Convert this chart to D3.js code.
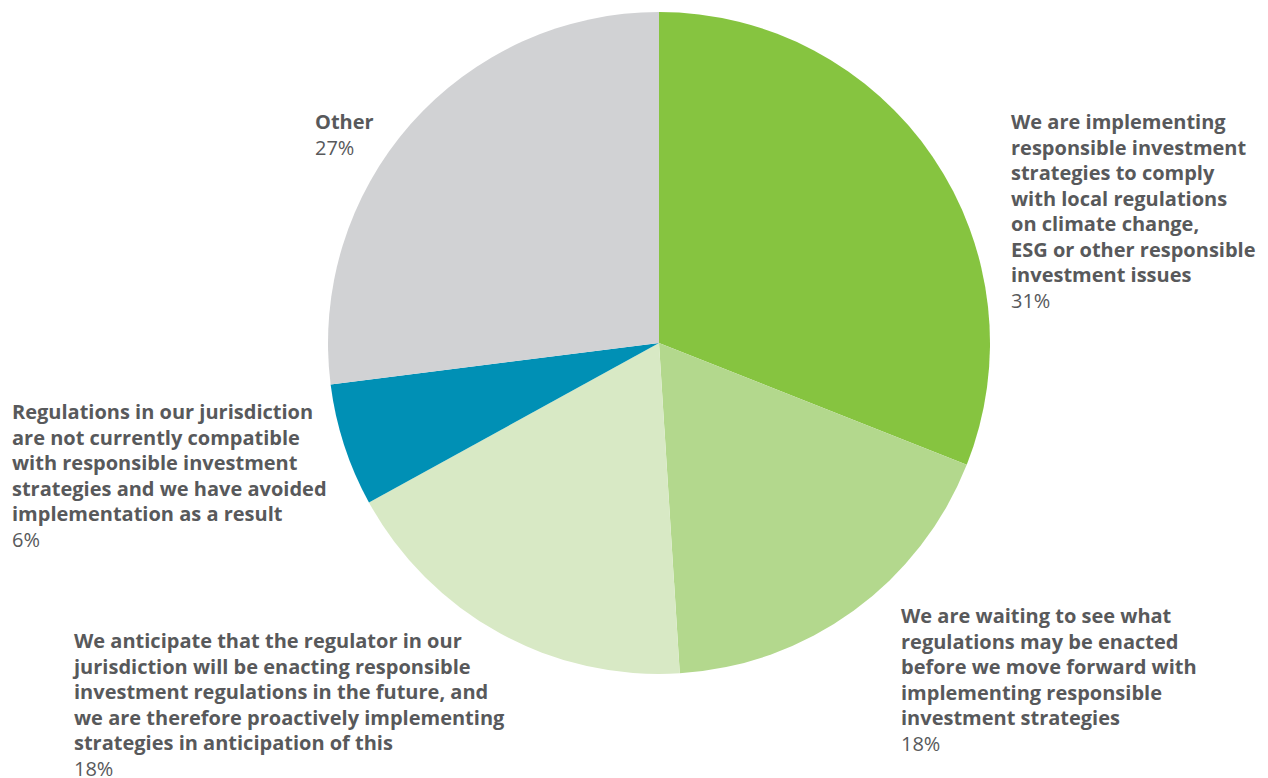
<!DOCTYPE html>
<html>
<head>
<meta charset="utf-8">
<script src="https://cdn.jsdelivr.net/npm/d3@7"></script>
<style>
  html, body { margin: 0; padding: 0; background: #fff; }
  svg text { font-family: "Open Sans", "Lato", sans-serif; fill: #58595b; }
</style>
</head>
<body>
<svg id="chart" width="1268" height="778"></svg>
<script>
// Survey responses on regulation and responsible investment (share of respondents, %)
const categories = [
  "We are implementing responsible investment strategies to comply with local regulations on climate change, ESG or other responsible investment issues",
  "We are waiting to see what regulations may be enacted before we move forward with implementing responsible investment strategies",
  "We anticipate that the regulator in our jurisdiction will be enacting responsible investment regulations in the future, and we are therefore proactively implementing strategies in anticipation of this",
  "Regulations in our jurisdiction are not currently compatible with responsible investment strategies and we have avoided implementation as a result",
  "Other"
];
const values = [31, 18, 18, 6, 27];
const percentLabels = ["31%", "18%", "18%", "6%", "27%"];
// Line breaks used for each label block
const labelLines = [
  ["We are implementing", "responsible investment", "strategies to comply", "with local regulations", "on climate change,", "ESG or other responsible", "investment issues"],
  ["We are waiting to see what", "regulations may be enacted", "before we move forward with", "implementing responsible", "investment strategies"],
  ["We anticipate that the regulator in our", "jurisdiction will be enacting responsible", "investment regulations in the future, and", "we are therefore proactively implementing", "strategies in anticipation of this"],
  ["Regulations in our jurisdiction", "are not currently compatible", "with responsible investment", "strategies and we have avoided", "implementation as a result"],
  ["Other"]
];
const colors = ["#86c440", "#b3d88d", "#d8e9c5", "#0090b5", "#d1d2d4"];

const svg = d3.select("#chart");
const cx = 659, cy = 343, radius = 331;

const pie = d3.pie().sort(null).value(d => d);
const arc = d3.arc().innerRadius(0).outerRadius(radius);

const g = svg.append("g").attr("transform", `translate(${cx},${cy})`);
g.selectAll("path")
  .data(pie(values))
  .join("path")
  .attr("d", arc)
  .attr("fill", (d, i) => colors[i]);

// Label blocks: left edge and first baseline for each slice's text
const labelPos = [
  { x: 1011, y: 129 },
  { x: 901, y: 623 },
  { x: 74, y: 648 },
  { x: 12, y: 419 },
  { x: 315, y: 129 }
];
const lineH = 25.5;

labelLines.forEach((lines, i) => {
  const t = svg.append("text")
    .attr("x", labelPos[i].x)
    .attr("y", labelPos[i].y)
    .style("font-size", "20px");
  lines.forEach((ln, j) => {
    t.append("tspan")
      .attr("x", labelPos[i].x)
      .attr("dy", j === 0 ? 0 : lineH)
      .style("font-weight", 700)
      .text(ln);
  });
  t.append("tspan")
    .attr("x", labelPos[i].x)
    .attr("dy", lineH)
    .style("font-weight", 400)
    .text(percentLabels[i]);
});
</script>
</body>
</html>
